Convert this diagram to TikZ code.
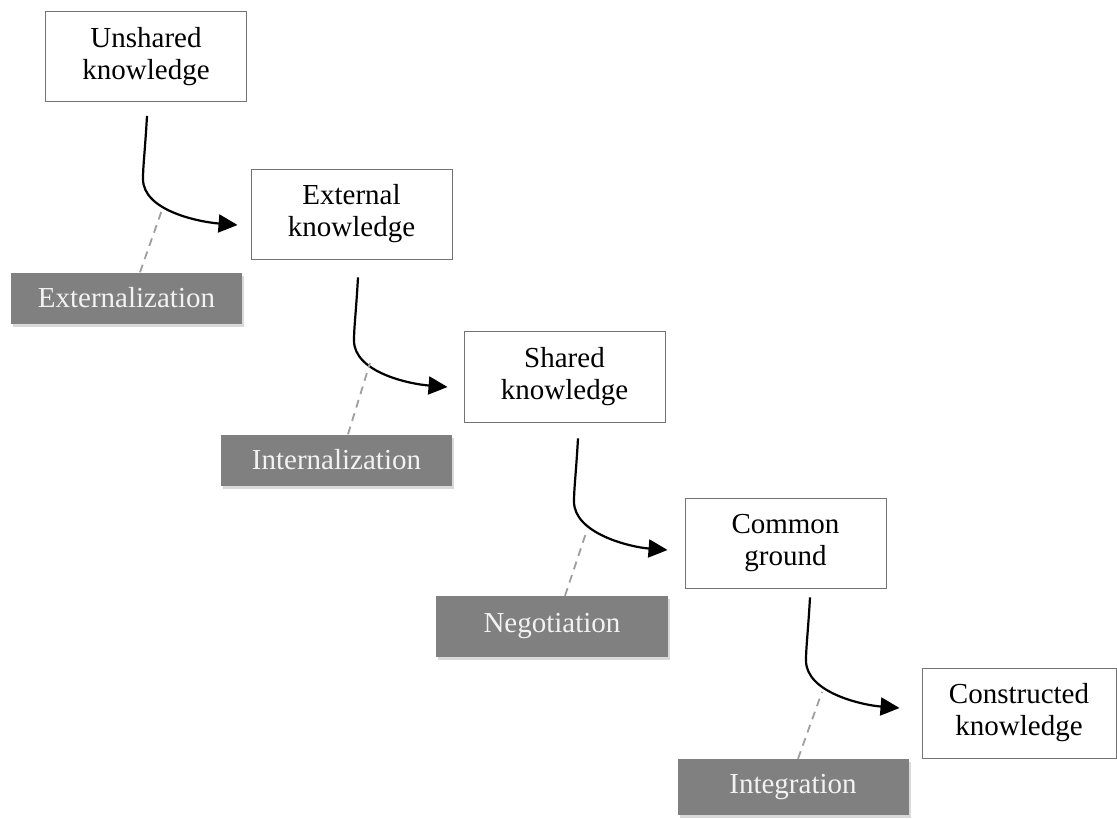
\documentclass[tikz,border=0pt]{standalone}
\usepackage{fontspec}
\setmainfont{Liberation Serif}
\usetikzlibrary{arrows.meta,calc,shadows}
\newcommand\flowarrow[3]{%
  \draw[flow] (#1) .. controls ($(#1)+(-2,35)$) and ($(#2)+(0,-13)$) .. (#2)
    .. controls ($(#2)+(0,32)$) and ($(#3)+(-38,-3)$) .. (#3);}
\begin{document}
\begin{tikzpicture}[x=1pt,y=-1pt,
  kbox/.style={draw=black!55,line width=0.9pt,fill=white,align=center,inner sep=0pt,
    minimum width=201pt,minimum height=90pt,font=\fontsize{29}{32}\selectfont},
  lbox/.style={fill=black!50,text=white!95!black,inner sep=0pt,minimum width=231pt,
    minimum height=51pt,font=\fontsize{29}{32}\selectfont,
    drop shadow={shadow xshift=2pt,shadow yshift=-3pt,opacity=0.3}},
  flow/.style={draw=black,line width=2.2pt,-{Triangle[length=19pt,width=18pt]}},
  callout/.style={draw=black!38,line width=1.8pt,dash pattern=on 8pt off 6pt}]
\useasboundingbox (0,0) rectangle (1117,819);

% knowledge boxes
\node[kbox] (b1) at (146,56.5) {Unshared\\knowledge};
\node[kbox] (b2) at (351.5,214) {External\\knowledge};
\node[kbox,minimum height=91pt] (b3) at (564.5,376.5) {Shared\\knowledge};
\node[kbox] (b4) at (785.5,543) {Common\\ground};
\node[kbox,minimum width=194pt] (b5) at (1019,713) {Constructed\\knowledge};

% process labels
\node[lbox] (l1) at (126.5,298) {Externalization};
\node[lbox] (l2) at (336.5,460) {Internalization};
\node[lbox,minimum width=232pt,minimum height=61pt] (l3) at (552,626.5) {Negotiation};
\node[lbox,minimum height=56pt] (l4) at (793,787) {Integration};

% arrow geometry
\coordinate (s1) at ($(b1.south)+(1,14)$);
\coordinate (k1) at ($(s1)+(-4,63)$);
\coordinate (e1) at ($(b2.west)+(-13,11)$);
\coordinate (s2) at ($(b2.south)+(6.5,18)$);
\coordinate (k2) at ($(s2)+(-4,63)$);
\coordinate (e2) at ($(b3.west)+(-16,10.5)$);
\coordinate (s3) at ($(b3.south)+(13.5,16)$);
\coordinate (k3) at ($(s3)+(-4,63)$);
\coordinate (e3) at ($(b4.west)+(-17,7)$);
\coordinate (s4) at ($(b4.south)+(24.5,9)$);
\coordinate (k4) at ($(s4)+(-4,63)$);
\coordinate (e4) at ($(b5.west)+(-22,-5)$);

\flowarrow{s1}{k1}{e1}
\flowarrow{s2}{k2}{e2}
\flowarrow{s3}{k3}{e3}
\flowarrow{s4}{k4}{e4}

% dashed callouts
\coordinate (c1) at (163,207);
\coordinate (c2) at (370,363);
\coordinate (c3) at (587,530);
\coordinate (c4) at (822,692);
\draw[callout] ($(l1.north)+(13.5,0)$) -- (c1);
\draw[callout] ($(l2.north)+(11.5,0)$) -- (c2);
\draw[callout] ($(l3.north)+(13,0)$) -- (c3);
\draw[callout] ($(l4.north)+(5,0)$) -- (c4);
\end{tikzpicture}
\end{document}
